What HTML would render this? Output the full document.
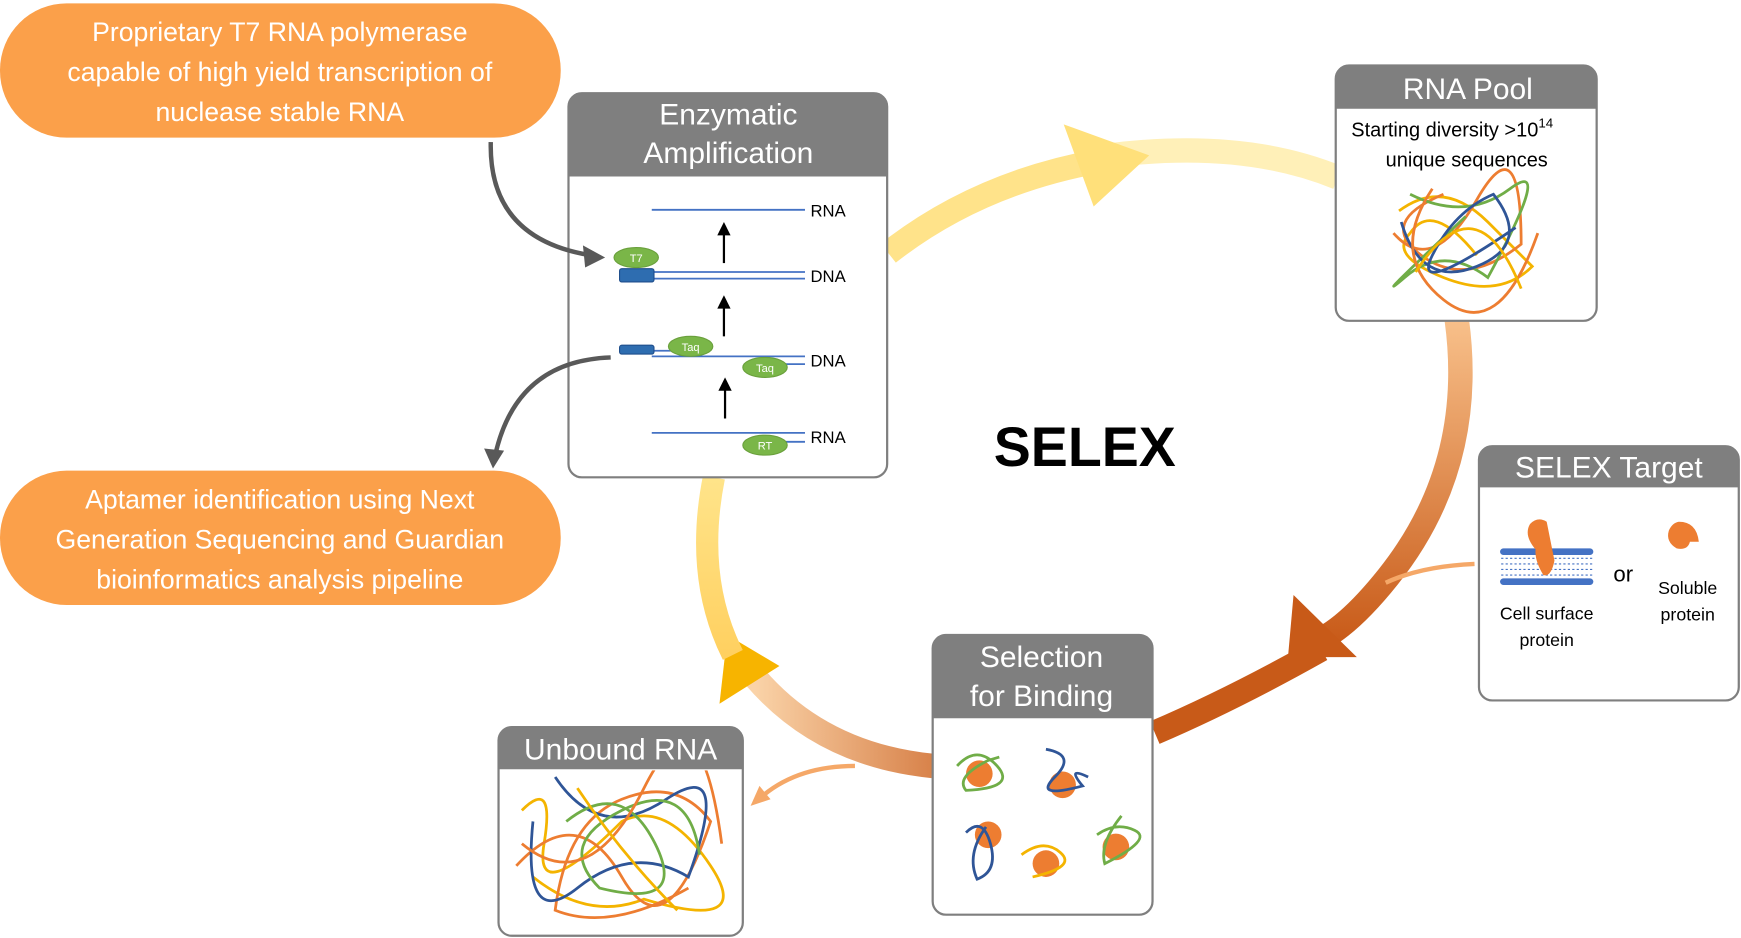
<!DOCTYPE html>
<html><head><meta charset="utf-8"><style>
html,body{margin:0;padding:0;background:#fff;}
svg{display:block;}
text{font-family:"Liberation Sans",sans-serif;}
</style></head><body>
<svg width="1741" height="938" viewBox="0 0 1568 845" preserveAspectRatio="none" xmlns="http://www.w3.org/2000/svg">
<defs>
<linearGradient id="go" x1="0" y1="0" x2="0" y2="1"><stop offset="0" stop-color="#f8c08a"/><stop offset="1" stop-color="#c85a18"/></linearGradient>
<linearGradient id="gb" x1="1" y1="0" x2="0" y2="0"><stop offset="0" stop-color="#d8824a"/><stop offset="1" stop-color="#fad3a8"/></linearGradient>
<linearGradient id="gl" x1="0" y1="0" x2="0" y2="1"><stop offset="0" stop-color="#ffe48a"/><stop offset="1" stop-color="#ffd060"/></linearGradient>
<clipPath id="cu"><rect x="452" y="694" width="215" height="147"/></clipPath>
</defs>
<!-- ring arrows -->
<path d="M800 228 Q880 165 990 145" stroke="#ffe38a" stroke-width="22" fill="none"/>
<path d="M1000 140 Q1120 125 1205 160" stroke="#fff0b8" stroke-width="22" fill="none"/>
<polygon points="958,112 1035,140 985,186" fill="#ffe07a"/>
<path d="M1312 288 Q1330 420 1250 520 Q1210 570 1180 580" stroke="url(#go)" stroke-width="22" fill="none"/>
<path d="M1190 585 Q1110 630 1040 660" stroke="#c85a18" stroke-width="22" fill="none"/>
<polygon points="1165,536 1222,592 1160,592" fill="#c85a18"/>
<path d="M840 690 Q740 680 680 610" stroke="url(#gb)" stroke-width="22" fill="none"/>
<polygon points="655,572 702,600 648,634" fill="#f7b400"/>
<path d="M643 430 Q625 520 660 590" stroke="url(#gl)" stroke-width="20" fill="none"/>
<!-- small arrows -->
<path d="M1328 508 Q1280 510 1248 525" stroke="#f5a868" stroke-width="4" fill="none"/>
<path d="M770 690 Q720 690 688 716" stroke="#f5a868" stroke-width="4" fill="none"/>
<polygon points="676,726 684,708 694,720" fill="#f5a868"/>
<!-- orange bubbles -->
<rect x="0" y="3" width="505" height="121" rx="60" fill="#fba04a"/>
<text fill="#fff" font-size="24" text-anchor="middle"><tspan x="252" y="37">Proprietary T7 RNA polymerase</tspan><tspan x="252" y="73">capable of high yield transcription of</tspan><tspan x="252" y="109">nuclease stable RNA</tspan></text>
<rect x="0" y="424" width="505" height="121" rx="60" fill="#fba04a"/>
<text fill="#fff" font-size="24" text-anchor="middle"><tspan x="252" y="458">Aptamer identification using Next</tspan><tspan x="252" y="494">Generation Sequencing and Guardian</tspan><tspan x="252" y="530">bioinformatics analysis pipeline</tspan></text>
<text x="977" y="420" font-size="50" font-weight="bold" text-anchor="middle" fill="#000">SELEX</text>
<!-- Enzymatic box -->
<rect x="512" y="84" width="287" height="346" rx="12" fill="#fff" stroke="#7f7f7f" stroke-width="2"/>
<path d="M512 159 V96 Q512 84 524 84 H787 Q799 84 799 96 V159 Z" fill="#7f7f7f"/>
<text fill="#fff" font-size="27" text-anchor="middle"><tspan x="656" y="112">Enzymatic</tspan><tspan x="656" y="147">Amplification</tspan></text>
<g stroke="#4472c4" stroke-width="1.6">
<line x1="587" y1="189" x2="725" y2="189"/>
<line x1="587" y1="245" x2="725" y2="245"/><line x1="587" y1="251" x2="725" y2="251"/>
<line x1="587" y1="316" x2="612" y2="316"/><line x1="587" y1="321" x2="725" y2="321"/><line x1="690" y1="328" x2="725" y2="328"/>
<line x1="587" y1="390" x2="725" y2="390"/><line x1="690" y1="398" x2="725" y2="398"/>
</g>
<rect x="558" y="242" width="31" height="12" rx="2" fill="#2e6db0" stroke="#1f4e8c"/>
<rect x="558" y="311" width="31" height="8" rx="2" fill="#2e6db0" stroke="#1f4e8c"/>
<g fill="#7ab648" stroke="#6aa03c">
<ellipse cx="573" cy="232" rx="20" ry="9"/><ellipse cx="622" cy="312" rx="20" ry="9"/><ellipse cx="689" cy="331" rx="20" ry="9"/><ellipse cx="689" cy="401" rx="20" ry="9"/></g>
<g fill="#fff" font-size="10" text-anchor="middle"><text x="573" y="236">T7</text><text x="622" y="316">Taq</text><text x="689" y="335">Taq</text><text x="689" y="405">RT</text></g>
<g font-size="15" fill="#000"><text x="730" y="195">RNA</text><text x="730" y="254">DNA</text><text x="730" y="330">DNA</text><text x="730" y="399">RNA</text></g>
<g stroke="#000" stroke-width="2"><line x1="652" y1="237" x2="652" y2="210"/><line x1="652" y1="303" x2="652" y2="276"/><line x1="653" y1="377" x2="653" y2="350"/></g>
<g fill="#000"><polygon points="646,212 652,200 658,212"/><polygon points="646,278 652,266 658,278"/><polygon points="647,352 653,340 659,352"/></g>
<!-- gray connectors (on top) -->
<path d="M442 128 Q440 215 532 230" stroke="#595959" stroke-width="4" fill="none"/>
<polygon points="545,232 525,221 527,241" fill="#595959"/>
<path d="M550 322 Q465 325 446 410" stroke="#595959" stroke-width="4" fill="none"/>
<polygon points="444,422 436,404 454,406" fill="#595959"/>
<!-- RNA Pool -->
<rect x="1203" y="59" width="235" height="230" rx="12" fill="#fff" stroke="#7f7f7f" stroke-width="2"/>
<path d="M1203 98 V71 Q1203 59 1215 59 H1426 Q1438 59 1438 71 V98 Z" fill="#7f7f7f"/>
<text x="1322" y="89" fill="#fff" font-size="27" text-anchor="middle">RNA Pool</text>
<text x="1217" y="123" font-size="18" fill="#000">Starting diversity &gt;10<tspan font-size="12" dy="-8">14</tspan></text>
<text x="1321" y="150" font-size="18" fill="#000" text-anchor="middle">unique sequences</text>
<g fill="none" stroke-width="2.5">
<path d="M1260 190 Q1300 160 1340 200 T1380 240 Q1350 270 1300 250 T1270 210 Q1290 180 1330 230" stroke="#f4b400"/>
<path d="M1255 210 Q1290 250 1330 180 T1370 220 Q1320 260 1280 230 T1300 175" stroke="#ed7d31"/>
<path d="M1270 175 Q1320 200 1360 170 T1340 250 Q1300 220 1265 250 T1320 195" stroke="#70ad47"/>
<path d="M1262 200 Q1280 260 1330 240 T1345 175 Q1310 190 1290 230 T1365 205" stroke="#2f5597"/>
<path d="M1290 170 Q1250 230 1300 270 T1385 210" stroke="#ed7d31"/>
<path d="M1275 245 Q1330 160 1370 260" stroke="#f4b400"/>
</g>
<!-- SELEX Target -->
<rect x="1332" y="402" width="234" height="229" rx="12" fill="#fff" stroke="#7f7f7f" stroke-width="2"/>
<path d="M1332 439 V414 Q1332 402 1344 402 H1554 Q1566 402 1566 414 V439 Z" fill="#7f7f7f"/>
<text x="1449" y="430" fill="#fff" font-size="27" text-anchor="middle">SELEX Target</text>
<g fill="#4472c4"><rect x="1351" y="494" width="84" height="6" rx="3"/><rect x="1351" y="521" width="84" height="6" rx="3"/></g>
<g stroke="#4472c4" stroke-width="1" fill="none"><path d="M1352 503 l84 0 M1352 508 l84 0 M1352 513 l84 0 M1352 518 l84 0" stroke-dasharray="2 2"/></g>
<path d="M1378 472 Q1385 465 1393 470 Q1397 490 1400 505 Q1397 520 1390 518 Q1382 505 1383 495 Q1372 482 1378 472Z" fill="#ed7d31"/>
<path d="M1512 470 Q1528 470 1530 488 L1522 488 Q1520 496 1510 494 Q1500 488 1503 478 Q1506 471 1512 470Z" fill="#ed7d31"/>
<text x="1462" y="524" font-size="20" text-anchor="middle">or</text>
<text font-size="16" text-anchor="middle"><tspan x="1393" y="558">Cell surface</tspan><tspan x="1393" y="582">protein</tspan><tspan x="1520" y="535">Soluble</tspan><tspan x="1520" y="559">protein</tspan></text>
<!-- Selection -->
<rect x="840" y="572" width="198" height="252" rx="12" fill="#fff" stroke="#7f7f7f" stroke-width="2"/>
<path d="M840 647 V584 Q840 572 852 572 H1026 Q1038 572 1038 584 V647 Z" fill="#7f7f7f"/>
<text fill="#fff" font-size="27" text-anchor="middle"><tspan x="938" y="601">Selection</tspan><tspan x="938" y="636">for Binding</tspan></text>
<g fill="#ed7d31"><circle cx="882" cy="697" r="12"/><circle cx="957" cy="707" r="12"/><circle cx="890" cy="752" r="12"/><circle cx="942" cy="778" r="12"/><circle cx="1005" cy="763" r="12"/></g>
<g fill="none" stroke-width="2.5">
<path d="M862 690 Q880 670 898 690 T870 712 Q860 700 890 685 L900 682" stroke="#70ad47"/>
<path d="M942 675 Q970 680 950 700 T975 708 Q960 690 980 700" stroke="#2f5597"/>
<path d="M870 750 Q885 735 892 760 T880 792 Q870 770 888 745" stroke="#2f5597"/>
<path d="M920 770 Q940 755 955 768 T930 790" stroke="#f4b400"/>
<path d="M988 752 Q1005 740 1022 748 T995 778 Q990 760 1010 735" stroke="#70ad47"/>
</g>
<!-- Unbound RNA -->
<rect x="449" y="655" width="220" height="188" rx="12" fill="#fff" stroke="#7f7f7f" stroke-width="2"/>
<path d="M449 693 V667 Q449 655 461 655 H657 Q669 655 669 667 V693 Z" fill="#7f7f7f"/>
<text x="559" y="684" fill="#fff" font-size="27" text-anchor="middle">Unbound RNA</text>
<g fill="none" stroke-width="2.5" clip-path="url(#cu)">
<path d="M470 730 Q500 700 490 760 T560 740 Q600 720 640 780 T580 810 Q530 830 480 790" stroke="#f4b400"/>
<path d="M465 780 Q520 720 560 790 T640 740 Q610 700 560 720 T500 820 Q550 840 620 800" stroke="#ed7d31"/>
<path d="M500 700 Q540 760 600 720 T620 790 Q570 760 520 800 T480 740" stroke="#2f5597"/>
<path d="M510 740 Q560 700 590 760 T540 800 Q500 760 560 730 T630 770" stroke="#70ad47"/>
<path d="M470 760 Q530 810 580 710 T650 760" stroke="#ed7d31"/>
<path d="M520 710 Q560 770 610 820" stroke="#f4b400"/>
</g>
</svg>
</body></html>
